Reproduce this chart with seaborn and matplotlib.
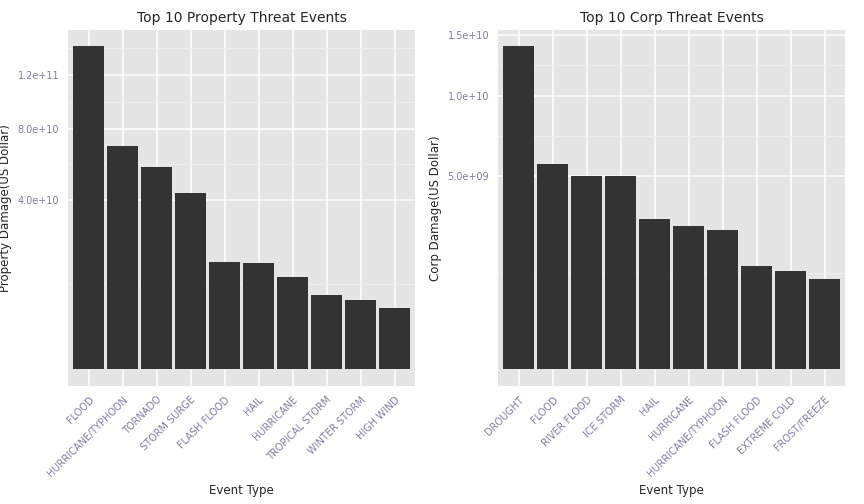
import numpy as np
import matplotlib
matplotlib.use("Agg")
import matplotlib.pyplot as plt
import seaborn as sns

prop_events = ["FLOOD","HURRICANE/TYPHOON","TORNADO","STORM SURGE","FLASH FLOOD","HAIL","HURRICANE","TROPICAL STORM","WINTER STORM","HIGH WIND"]
prop_values = [144.66e9, 69.31e9, 56.94e9, 43.32e9, 16.14e9, 15.73e9, 11.87e9, 7.70e9, 6.69e9, 5.27e9]
crop_events = ["DROUGHT","FLOOD","RIVER FLOOD","ICE STORM","HAIL","HURRICANE","HURRICANE/TYPHOON","FLASH FLOOD","EXTREME COLD","FROST/FREEZE"]
crop_values = [13.97e9, 5.66e9, 5.03e9, 5.02e9, 3.03e9, 2.74e9, 2.61e9, 1.42e9, 1.29e9, 1.09e9]

sns.set_theme(style="darkgrid", rc={"axes.facecolor": "#E5E5E5", "grid.color": "white",
                                    "axes.edgecolor": "none"})
plt.rcParams['font.family'] = ['DejaVu Sans']

fwd = lambda y: np.sign(y) * np.sqrt(np.abs(y))
inv = lambda y: np.sign(y) * y**2

fig, axes = plt.subplots(1, 2, figsize=(8.64, 5.04), dpi=100)

def draw(ax, events, values, title, ylabel, ticks, labels):
    sns.barplot(x=events, y=values, ax=ax, color="#333333", saturation=1, width=0.9,
                edgecolor="none", linewidth=0)
    ax.set_yscale('function', functions=(fwd, inv))
    top = np.sqrt(max(values))
    ax.set_yticks(ticks)
    ax.set_yticklabels(labels, color="#7F7F9F", fontsize=7)
    s = [0] + [np.sqrt(t) for t in ticks]
    minors = [((s[i] + s[i+1]) / 2) ** 2 for i in range(len(s) - 1)]
    minors.append(((s[-1] + (s[-1] - s[-2]) / 2)) ** 2)
    ax.set_yticks(minors, minor=True)
    ax.set_ylim(inv(-0.05 * top), inv(top * 1.05))
    ax.grid(which="minor", axis="y", color="#F2F2F2", linewidth=0.6)
    ax.grid(which="major", color="white", linewidth=1.1)
    ax.set_xlim(-0.6, len(events) - 0.4)
    ax.tick_params(axis="x", labelsize=7, labelcolor="#7F7F9F", length=3, color="#555555")
    ax.tick_params(axis="y", length=3, color="#555555")
    plt.setp(ax.get_xticklabels(), rotation=45, ha="right", rotation_mode="anchor")
    ax.set_title(title, fontsize=10)
    ax.set_xlabel("Event Type", fontsize=8.5)
    ax.set_ylabel(ylabel, fontsize=8.5)

draw(axes[0], prop_events, prop_values, "Top 10 Property Threat Events", "Property Damage(US Dollar)",
     [4e10, 8e10, 1.2e11], ["4.0e+10", "8.0e+10", "1.2e+11"])
draw(axes[1], crop_events, crop_values, "Top 10 Corp Threat Events", "Corp Damage(US Dollar)",
     [5e9, 1e10, 1.5e10], ["5.0e+09", "1.0e+10", "1.5e+10"])

fig.subplots_adjust(left=0.079, right=0.978, top=0.94, bottom=0.235, wspace=0.24)
fig.savefig("out.png")
